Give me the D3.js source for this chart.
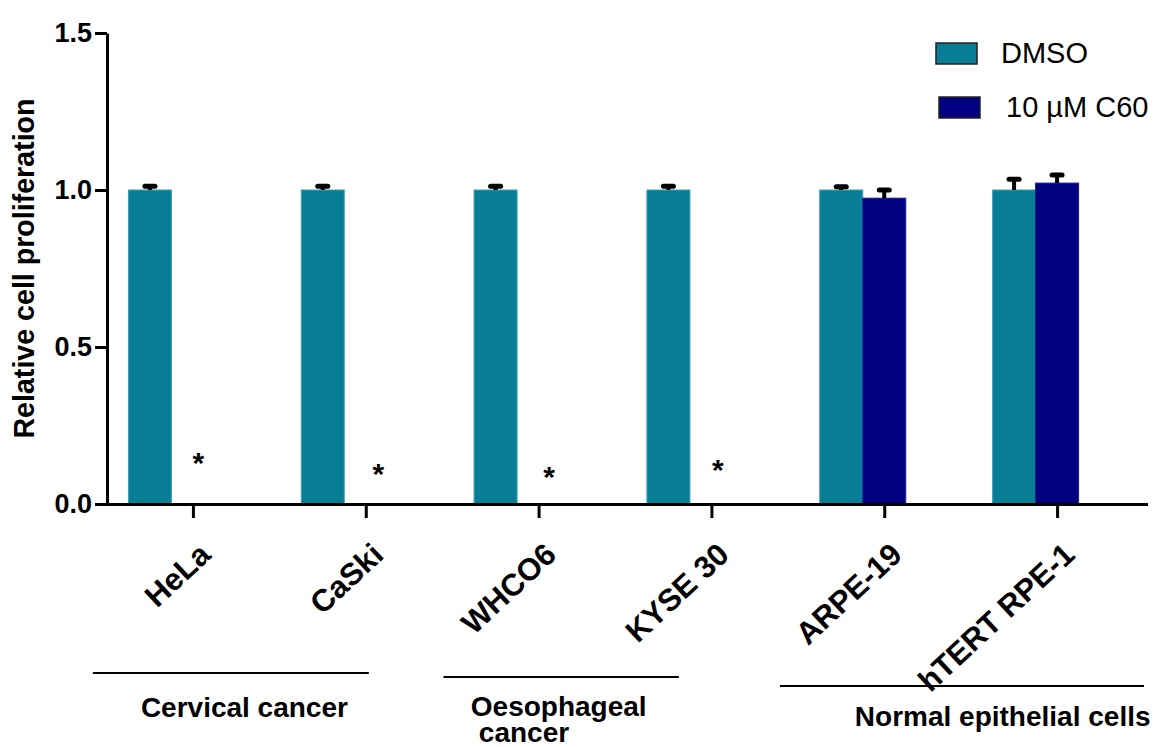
<!DOCTYPE html>
<html>
<head>
<meta charset="utf-8">
<script src="https://cdn.jsdelivr.net/npm/d3@7"></script>
<style>
  body { margin: 0; background: #fff; }
  svg { display: block; }
  text { font-family: "Liberation Sans", Arial, sans-serif; fill: #000; }
</style>
</head>
<body>
<svg id="chart" width="1160" height="747"></svg>
<script>
// ---- data ----
const categories = ["HeLa", "CaSki", "WHCO6", "KYSE 30", "ARPE-19", "hTERT RPE-1"];
const seriesNames = ["DMSO", "10 µM C60"];
const dmsoValues = [1.0, 1.0, 1.0, 1.0, 1.0, 1.0];
const dmsoErrors = [0.012, 0.012, 0.012, 0.012, 0.01, 0.034];
const c60Values = [0, 0, 0, 0, 0.974, 1.022];
const c60Errors = [0, 0, 0, 0, 0.026, 0.026];
const sigMarks = ["*", "*", "*", "*", "", ""];
const sigHeights = [0.15, 0.115, 0.105, 0.127, null, null];
const yTicks = [0, 0.5, 1.0, 1.5];
const groupNames = [["Cervical cancer"], ["Oesophageal", "cancer"], ["Normal epithelial cells"]];
// group bracket extents, in category-index units
const groupSpans = [[-0.582, 1.015], [1.447, 2.809], [3.394, 5.5]];

// ---- layout ----
const colors = { "DMSO": "#077e96", "10 µM C60": "#000080" };
const strokes = { "DMSO": "#3d9fb2", "10 µM C60": "#1c1c90" };
const plot = { left: 107, right: 1144, top: 33, bottom: 504 };
const barWidth = 43;
const sigDx = [5, 12, 10, 6];
const groupLayout = [
  { lineY: 673, textX: -0.304, lines: [717] },
  { lineY: 677, textX: 1.605, lines: [716, 742], indent: [0, 8] },
  { lineY: 686, textX: 3.827, lines: [726] }
];

const svg = d3.select("#chart");
svg.append("rect").attr("width", 1160).attr("height", 747).attr("fill", "#fff");

const x = d3.scaleBand().domain(categories).range([plot.left, plot.right]).padding(0);
const xc = c => x(c) + x.bandwidth() / 2;
// second bar sits on the category tick, first bar to its left
const xs = d3.scaleBand().domain(seriesNames)
  .range([-1.5 * barWidth - 0.5, 0.5 * barWidth - 0.5]).padding(0);
const xi = d3.scaleLinear().domain([0, categories.length - 1])
  .range([xc(categories[0]), xc(categories[categories.length - 1])]);
const y = d3.scaleLinear().domain([0, 1.5]).range([plot.bottom, plot.top]);

const rows = categories.map((c, i) => ({
  cat: c,
  vals: [
    { s: seriesNames[0], v: dmsoValues[i], e: dmsoErrors[i] },
    { s: seriesNames[1], v: c60Values[i], e: c60Errors[i] }
  ]
}));

// bars
const g = svg.append("g");
const groups = g.selectAll("g.cat").data(rows).join("g")
  .attr("class", "cat")
  .attr("transform", d => `translate(${xc(d.cat)},0)`);

groups.selectAll("rect").data(d => d.vals).join("rect")
  .attr("x", d => xs(d.s))
  .attr("width", xs.bandwidth())
  .attr("y", d => y(d.v))
  .attr("height", d => y(0) - y(d.v))
  .attr("fill", d => colors[d.s])
  .attr("stroke", d => d.v > 0 ? strokes[d.s] : "none")
  .attr("stroke-width", 1);

// error bars (upper only)
const eb = groups.selectAll("g.err").data(d => d.vals.filter(v => v.v > 0 && v.e > 0)).join("g")
  .attr("class", "err");
eb.append("line")
  .attr("x1", d => xs(d.s) + xs.bandwidth() / 2)
  .attr("x2", d => xs(d.s) + xs.bandwidth() / 2)
  .attr("y1", d => y(d.v))
  .attr("y2", d => y(d.v + d.e))
  .attr("stroke", "#000").attr("stroke-width", 4);
eb.append("line")
  .attr("x1", d => xs(d.s) + xs.bandwidth() / 2 - 5)
  .attr("x2", d => xs(d.s) + xs.bandwidth() / 2 + 5)
  .attr("y1", d => y(d.v + d.e))
  .attr("y2", d => y(d.v + d.e))
  .attr("stroke", "#000").attr("stroke-width", 5).attr("stroke-linecap", "round");

// significance marks
svg.append("g").selectAll("text").data(categories.map((c, i) => ({ c, i })).filter(d => sigMarks[d.i]))
  .join("text")
  .attr("x", d => xc(d.c) + sigDx[d.i])
  .attr("y", d => y(sigHeights[d.i]) + 16)
  .attr("text-anchor", "middle")
  .attr("font-size", 30)
  .attr("font-weight", "bold")
  .text(d => sigMarks[d.i]);

// y axis
const yAxis = svg.append("g")
  .attr("transform", `translate(${plot.left},0)`)
  .call(d3.axisLeft(y).tickValues(yTicks).tickFormat(d3.format(".1f"))
    .tickSize(12).tickSizeOuter(0).tickPadding(3));
yAxis.select(".domain").attr("stroke", "#000").attr("stroke-width", 3);
yAxis.selectAll(".tick line").attr("stroke", "#000").attr("stroke-width", 3);
yAxis.selectAll(".tick text")
  .attr("font-size", 27).attr("font-weight", "bold")
  .attr("font-family", "'Liberation Sans', Arial, sans-serif").attr("fill", "#000");

// x axis
const xAxis = svg.append("g")
  .attr("transform", `translate(0,${plot.bottom})`)
  .call(d3.axisBottom(x).tickSize(14).tickSizeOuter(0));
xAxis.select(".domain").attr("stroke", "#000").attr("stroke-width", 3)
  .attr("d", `M${plot.left - 1.5},0.5H${plot.right + 4}`);
xAxis.selectAll(".tick line").attr("stroke", "#000").attr("stroke-width", 3);
xAxis.selectAll(".tick text")
  .attr("x", 0).attr("y", 0).attr("dy", 0)
  .attr("transform", "translate(19,53) rotate(-43)")
  .attr("text-anchor", "end")
  .attr("font-size", 31).attr("font-weight", "bold")
  .attr("font-family", "'Liberation Sans', Arial, sans-serif").attr("fill", "#000");

// y axis title
svg.append("text")
  .attr("transform", `translate(34,${(plot.top + plot.bottom) / 2}) rotate(-90)`)
  .attr("text-anchor", "middle")
  .attr("font-size", 28.6).attr("font-weight", "bold")
  .text("Relative cell proliferation");

// group brackets and labels
groupNames.forEach((names, k) => {
  const L = groupLayout[k];
  svg.append("line")
    .attr("x1", xi(groupSpans[k][0])).attr("x2", xi(groupSpans[k][1]))
    .attr("y1", L.lineY).attr("y2", L.lineY)
    .attr("stroke", "#000").attr("stroke-width", 2);
  const t = svg.append("text")
    .attr("font-size", 28).attr("font-weight", "bold");
  names.forEach((s, j) => {
    t.append("tspan")
      .attr("x", xi(L.textX) + (L.indent ? L.indent[j] : 0))
      .attr("y", L.lines[j])
      .text(s);
  });
});

// legend
const legendLayout = [
  { sx: 936, sy: 43, tx: 1001, ty: 63 },
  { sx: 939, sy: 97, tx: 1006, ty: 117 }
];
seriesNames.forEach((s, i) => {
  const L = legendLayout[i];
  svg.append("rect")
    .attr("x", L.sx).attr("y", L.sy).attr("width", 41).attr("height", 21)
    .attr("fill", colors[s]).attr("stroke", "#222").attr("stroke-width", 1.5);
  svg.append("text")
    .attr("x", L.tx).attr("y", L.ty)
    .attr("font-size", 29)
    .text(s);
});
</script>
</body>
</html>
